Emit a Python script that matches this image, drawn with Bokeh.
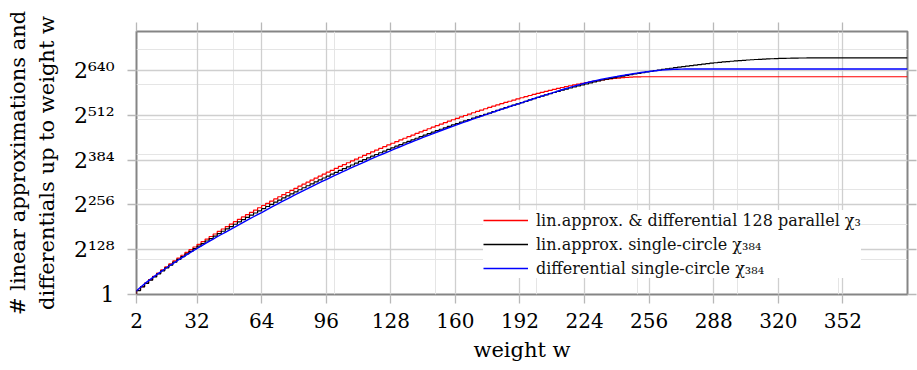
import math
from bokeh.plotting import figure
from bokeh.models import (Range1d, FixedTicker, LinearAxis, Grid, Legend, LegendItem)
from bokeh.embed import file_html
from bokeh.resources import INLINE

# ---------------- data (log2 of counts) ----------------
x_ticks = [2, 32, 64, 96, 128, 160, 192, 224, 256, 288, 320, 352]
y_ticks = [0, 128, 256, 384, 512, 640]
y_tick_labels = ["1", "2\u00b9\u00b2\u2078", "2\u00b2\u2075\u2076", "2\u00b3\u2078\u2074",
                 "2\u2075\u00b9\u00b2", "2\u2076\u2074\u2070"]
series_names = ["lin.approx. & differential 128 parallel \u03c7\u2083",
                "lin.approx. single-circle \u03c7\u2083\u2088\u2084",
                "differential single-circle \u03c7\u2083\u2088\u2084"]
x_title = "weight w"
y_title = "# linear approximations and\ndifferentials up to weight w"
w_max = 384

# weight w = 0, 2, 4, ... (one value per even weight)
red = [0.0,
       11.81, 22.60, 32.80, 42.58, 52.02, 61.18, 70.11, 78.84, 87.38, 95.76,
       103.99, 112.09, 120.05, 127.90, 135.63, 143.26, 150.79, 158.22, 165.56, 172.82,
       179.99, 187.08, 194.09, 201.03, 207.89, 214.69, 221.41, 228.07, 234.67, 241.20,
       247.67, 254.08, 260.42, 266.71, 272.95, 279.12, 285.25, 291.32, 297.33, 303.29,
       309.20, 315.06, 320.87, 326.63, 332.34, 338.00, 343.61, 349.17, 354.69, 360.16,
       365.58, 370.95, 376.28, 381.56, 386.80, 391.99, 397.14, 402.24, 407.29, 412.30,
       417.26, 422.19, 427.06, 431.89, 436.68, 441.42, 446.12, 450.77, 455.38, 459.94,
       464.46, 468.93, 473.36, 477.74, 482.08, 486.37, 490.61, 494.81, 498.96, 503.06,
       507.12, 511.12, 515.08, 518.99, 522.85, 526.67, 530.43, 534.14, 537.80, 541.40,
       544.95, 548.45, 551.89, 555.28, 558.61, 561.89, 565.10, 568.25, 571.34, 574.38,
       577.34, 580.25, 583.08, 585.84, 588.53, 591.15, 593.69, 596.15, 598.53, 600.82,
       603.03, 605.14, 607.16, 609.08, 610.89, 612.58, 614.16, 615.61, 616.93, 618.10,
       619.14, 619.99, 620.68, 621.19, 621.54, 621.73, 621.80, 621.82]

black = [0.0,
         11.3, 21.7, 31.6, 41.0, 50.1, 58.9, 67.5, 75.8, 84.1, 92.3,
         100.2, 108.1, 115.8, 123.4, 130.9, 138.3, 145.5, 152.7, 159.8, 166.8,
         173.7, 180.6, 187.3, 194.0, 200.6, 207.2, 213.7, 220.1, 226.4, 232.7,
         238.9, 245.1, 251.3, 257.5, 263.6, 269.6, 275.7, 281.6, 287.4, 293.3,
         299.1, 304.8, 310.5, 316.1, 321.7, 327.3, 332.7, 338.2, 343.6, 348.9,
         354.2, 359.5, 364.7, 369.8, 374.9, 380.0, 385.0, 390.0, 394.9, 399.8,
         404.7, 409.4, 414.2, 418.9, 423.6, 428.2, 432.7, 437.3, 441.8, 446.2,
         450.6, 454.9, 459.3, 463.5, 467.7, 471.9, 476.0, 480.1, 484.1, 488.1,
         492.0, 495.9, 499.7, 503.5, 507.3, 510.9, 514.5, 518.1, 522.1, 525.9,
         529.7, 533.5, 537.1, 540.8, 544.4, 547.9, 551.7, 555.5, 559.2, 562.9,
         566.4, 570.0, 573.5, 576.8, 580.1, 583.4, 586.6, 589.7, 592.6, 595.6,
         598.4, 601.1, 604.2, 607.1, 609.9, 612.6, 614.9, 617.1, 619.2, 621.1,
         623.3, 625.5, 627.6, 629.7, 631.7, 633.6, 635.5, 637.3, 639.1, 640.9,
         642.6, 644.3, 646.0, 647.6, 649.2, 650.7, 652.2, 653.7, 655.1, 656.5,
         657.9, 659.2, 660.5, 661.7, 662.9, 664.0, 665.1, 666.1, 667.1, 668.0,
         668.8, 669.6, 670.3, 671.0, 671.6, 672.2, 672.7, 673.2, 673.6, 674.0,
         674.3, 674.6, 674.9, 675.1, 675.3, 675.4, 675.5, 675.5]

blue = [0.0,
        10.8, 20.9, 30.4, 39.5, 48.1, 56.6, 64.8, 72.8, 80.6, 88.3,
        95.7, 103.1, 110.3, 117.4, 124.4, 131.3, 138.2, 145.0, 151.7, 158.3,
        164.9, 171.3, 177.7, 184.0, 190.5, 196.9, 203.3, 209.6, 215.8, 222.0,
        228.1, 234.1, 240.3, 246.6, 252.8, 258.9, 265.0, 270.9, 276.9, 282.8,
        288.6, 294.5, 300.2, 305.9, 311.5, 317.1, 322.7, 328.2, 333.7, 339.2,
        344.6, 350.0, 355.3, 360.6, 365.8, 371.0, 376.1, 381.2, 386.3, 391.3,
        396.3, 401.2, 406.1, 410.9, 415.7, 420.5, 425.3, 430.0, 434.7, 439.3,
        443.9, 448.4, 452.9, 457.3, 461.8, 466.1, 470.4, 474.7, 478.9, 483.1,
        487.2, 491.4, 495.5, 499.5, 503.5, 507.4, 511.3, 515.1, 519.2, 523.2,
        527.1, 531.0, 534.8, 538.5, 542.2, 545.9, 549.9, 553.8, 557.6, 561.4,
        565.1, 568.8, 572.3, 575.8, 579.5, 583.2, 586.7, 590.2, 593.5, 596.8,
        600.0, 603.1, 606.1, 608.8, 611.5, 614.1, 616.4, 618.6, 620.7, 622.6,
        624.6, 626.6, 628.5, 630.3, 632.1, 633.8, 635.4, 636.9, 638.3, 639.6,
        640.7, 641.6, 642.4, 643.0, 643.4, 643.7, 643.9, 644.0]


def with_tail(vals):
    xs = [2 * i for i in range(len(vals))] + [w_max]
    ys = list(vals) + [vals[-1]]
    return xs, ys


# ---------------- figure ----------------
SERIF = "DejaVu Serif"
GRID = "#cfcfcf"
TICK = "#b8b8b8"

p = figure(width=917, height=370, output_backend="svg", toolbar_location=None,
           x_range=Range1d(2, 384), y_range=Range1d(0, 751),
           x_axis_location=None, y_axis_location=None,
           min_border_left=136, min_border_right=10, min_border_top=31,
           min_border_bottom=76)
p.background_fill_color = "white"
p.border_fill_color = "white"
p.outline_line_color = "#858585"
p.outline_line_width = 2

xt = FixedTicker(ticks=x_ticks)
yt = FixedTicker(ticks=y_ticks)

p.add_layout(Grid(dimension=0, ticker=xt, grid_line_color=GRID, grid_line_width=1.3))
p.add_layout(Grid(dimension=1, ticker=yt, grid_line_color=GRID, grid_line_width=1.3))


def mk_axis(ticker, labels=True, standoff=5, size="20px"):
    ax = LinearAxis(ticker=ticker)
    ax.axis_line_color = None
    ax.major_tick_line_color = TICK
    ax.major_tick_line_width = 1.3
    ax.major_tick_in = 0
    ax.major_tick_out = 9
    ax.minor_tick_line_color = None
    ax.major_label_standoff = standoff
    if labels:
        ax.major_label_text_font = SERIF
        ax.major_label_text_font_size = size
        ax.major_label_text_color = "black"
        ax.axis_label_text_font = SERIF
        ax.axis_label_text_font_size = "21px"
        ax.axis_label_text_font_style = "normal"
        ax.axis_label_text_color = "black"
    else:
        ax.major_label_text_font_size = "0px"
        ax.major_label_standoff = 0
    return ax


bottom = mk_axis(xt, True, 9, "20px")
bottom.axis_label = x_title
bottom.axis_label_standoff = 7
left = mk_axis(yt, True, 13, "22px")
left.major_label_overrides = {t: s for t, s in zip(y_ticks, y_tick_labels)}
left.axis_label = y_title
left.axis_label_standoff = 12
top = mk_axis(xt, False)
right = mk_axis(yt, False)
p.add_layout(bottom, "below")
p.add_layout(left, "left")
p.add_layout(top, "above")
p.add_layout(right, "right")

colors = ["#ff0000", "#000000", "#0000ff"]
xs, ys = with_tail(red)
p.step(xs, ys, mode="after", line_color=colors[0], line_width=1.2)
xs, ys = with_tail(black)
p.step(xs, ys, mode="after", line_color=colors[1], line_width=1.2)
xs, ys = with_tail(blue)
p.line(xs, ys, line_color=colors[2], line_width=1.4)

# legend samples: renderers with a single undefined point, carrying the colours
legend_renderers = [p.line([0.0], [float("nan")], line_color=c, line_width=1.6)
                    for c in colors]
legend = Legend(items=[LegendItem(label=n, renderers=[r])
                       for n, r in zip(series_names, legend_renderers)],
                location=(347, 16), orientation="vertical")
legend.glyph_width = 45
legend.glyph_height = 20
legend.label_height = 20
legend.label_standoff = 8
legend.spacing = 4
legend.padding = 9
legend.margin = 0
legend.border_line_color = None
legend.background_fill_color = "white"
legend.background_fill_alpha = 1.0
legend.label_text_font = SERIF
legend.label_text_font_size = "16px"
legend.label_text_color = "#111111"
p.add_layout(legend, "center")

open("out.html", "w").write(file_html(p, INLINE))
